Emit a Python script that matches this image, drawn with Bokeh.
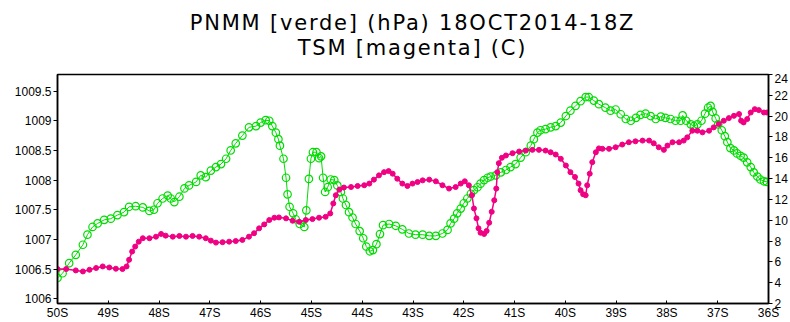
from bokeh.plotting import figure
from bokeh.models import Range1d, LinearAxis, FixedTicker, ColumnDataSource, Div
from bokeh.layouts import column
from bokeh.embed import file_html
from bokeh.resources import INLINE

# ---- data (latitude in degrees South) ----
lat_p = [50.00, 49.90, 49.77, 49.64, 49.50, 49.41, 49.31, 49.21, 49.08, 48.95,
         48.82, 48.69, 48.59, 48.46, 48.32, 48.19, 48.10, 48.03, 47.93, 47.83,
         47.77, 47.70, 47.60, 47.50, 47.41, 47.27, 47.18, 47.08, 46.98, 46.88,
         46.78, 46.68, 46.59, 46.49, 46.36, 46.23, 46.09, 46.00, 45.90, 45.83,
         45.77, 45.70, 45.65, 45.62, 45.55, 45.50, 45.47, 45.43, 45.36, 45.31,
         45.23, 45.14, 45.10, 45.05, 45.01, 44.97, 44.90, 44.85, 44.81, 44.77,
         44.73, 44.68, 44.62, 44.55, 44.49, 44.42, 44.38, 44.32, 44.26, 44.19,
         44.13, 44.05, 43.98, 43.92, 43.85, 43.79, 43.72, 43.65, 43.59, 43.47,
         43.34, 43.21, 43.08, 42.95, 42.81, 42.68, 42.55, 42.42, 42.32, 42.26,
         42.19, 42.13, 42.06, 42.00, 41.93, 41.86, 41.80, 41.73, 41.67, 41.60,
         41.53, 41.47, 41.37, 41.27, 41.17, 41.08, 40.98, 40.88, 40.78, 40.68,
         40.62, 40.55, 40.49, 40.39, 40.29, 40.19, 40.09, 39.99, 39.90, 39.80,
         39.70, 39.60, 39.54, 39.44, 39.34, 39.21, 39.11, 39.01, 38.91, 38.81,
         38.71, 38.61, 38.52, 38.42, 38.32, 38.22, 38.12, 38.03, 37.93, 37.83,
         37.73, 37.69, 37.62, 37.53, 37.47, 37.40, 37.32, 37.25, 37.19, 37.14,
         37.10, 37.04, 36.99, 36.92, 36.86, 36.81, 36.75, 36.68, 36.62, 36.55,
         36.49, 36.42, 36.35, 36.29, 36.22, 36.16, 36.09, 36.03]
pnmm = [1006.35, 1006.43, 1006.60, 1006.74, 1006.91, 1007.08, 1007.21, 1007.27, 1007.33, 1007.35,
        1007.41, 1007.46, 1007.55, 1007.56, 1007.54, 1007.48, 1007.50, 1007.61, 1007.69, 1007.74,
        1007.69, 1007.63, 1007.72, 1007.86, 1007.91, 1007.97, 1008.08, 1008.05, 1008.16, 1008.22,
        1008.27, 1008.36, 1008.50, 1008.62, 1008.75, 1008.89, 1008.91, 1008.97, 1009.01, 1009.00,
        1008.91, 1008.80, 1008.69, 1008.58, 1008.36, 1008.04, 1007.76, 1007.55, 1007.44, 1007.34,
        1007.26, 1007.21, 1007.49, 1008.02, 1008.36, 1008.47, 1008.47, 1008.37, 1008.40, 1008.04,
        1007.80, 1007.88, 1008.01, 1008.00, 1007.91, 1007.80, 1007.69, 1007.58, 1007.46, 1007.37,
        1007.26, 1007.14, 1007.02, 1006.88, 1006.80, 1006.82, 1006.92, 1007.09, 1007.24, 1007.26,
        1007.23, 1007.17, 1007.10, 1007.08, 1007.08, 1007.06, 1007.06, 1007.10, 1007.16, 1007.27,
        1007.35, 1007.44, 1007.52, 1007.61, 1007.69, 1007.77, 1007.83, 1007.88, 1007.94, 1008.00,
        1008.04, 1008.06, 1008.08, 1008.13, 1008.17, 1008.22, 1008.27, 1008.38, 1008.47, 1008.58,
        1008.69, 1008.80, 1008.84, 1008.86, 1008.89, 1008.91, 1008.97, 1009.08, 1009.17, 1009.25,
        1009.33, 1009.40, 1009.40, 1009.34, 1009.28, 1009.22, 1009.17, 1009.19, 1009.11, 1009.03,
        1009.00, 1009.05, 1009.10, 1009.12, 1009.08, 1009.03, 1009.07, 1009.05, 1009.03, 1009.00,
        1009.00, 1009.09, 1009.00, 1008.94, 1008.91, 1008.94, 1009.00, 1009.12, 1009.22, 1009.25,
        1009.15, 1009.04, 1008.94, 1008.84, 1008.74, 1008.64, 1008.54, 1008.50, 1008.45, 1008.41,
        1008.38, 1008.30, 1008.22, 1008.13, 1008.06, 1008.01, 1007.98, 1007.97]

lat_t = [50.00, 49.83, 49.64, 49.50, 49.37, 49.24, 49.11, 48.98, 48.85, 48.72,
         48.64, 48.59, 48.53, 48.47, 48.40, 48.32, 48.19, 48.06, 47.96, 47.87,
         47.73, 47.60, 47.47, 47.34, 47.21, 47.08, 46.98, 46.88, 46.75, 46.62,
         46.49, 46.36, 46.23, 46.13, 46.03, 45.93, 45.83, 45.73, 45.64, 45.50,
         45.37, 45.24, 45.11, 44.98, 44.85, 44.72, 44.63, 44.57, 44.52, 44.45,
         44.36, 44.22, 44.09, 43.96, 43.86, 43.77, 43.67, 43.57, 43.48, 43.40,
         43.31, 43.21, 43.11, 43.01, 42.91, 42.81, 42.68, 42.55, 42.42, 42.29,
         42.16, 42.06, 41.98, 41.90, 41.84, 41.80, 41.75, 41.71, 41.67, 41.60,
         41.55, 41.50, 41.45, 41.40, 41.36, 41.34, 41.31, 41.25, 41.17, 41.04,
         40.91, 40.78, 40.65, 40.52, 40.39, 40.29, 40.19, 40.09, 39.99, 39.90,
         39.81, 39.74, 39.70, 39.65, 39.60, 39.57, 39.52, 39.47, 39.40, 39.34,
         39.27, 39.14, 39.01, 38.88, 38.75, 38.62, 38.48, 38.35, 38.26, 38.16,
         38.06, 37.99, 37.89, 37.76, 37.67, 37.60, 37.50, 37.40, 37.30, 37.17,
         37.08, 36.98, 36.88, 36.78, 36.68, 36.58, 36.54, 36.49, 36.42, 36.35,
         36.27, 36.19, 36.09, 36.03]
tsm = [5.31, 5.31, 5.18, 5.08, 5.24, 5.41, 5.56, 5.46, 5.34, 5.31,
       5.56, 6.20, 6.99, 7.47, 7.94, 8.27, 8.27, 8.42, 8.68, 8.52,
       8.42, 8.49, 8.42, 8.49, 8.42, 8.27, 8.04, 7.85, 7.89, 7.94,
       8.00, 8.11, 8.42, 8.75, 9.22, 9.60, 10.02, 10.24, 10.27, 10.18,
       9.95, 9.85, 10.02, 10.11, 10.24, 10.33, 10.65, 11.61, 12.40, 12.94,
       13.14, 13.19, 13.29, 13.36, 13.52, 13.90, 14.31, 14.62, 14.72, 14.47,
       13.99, 13.52, 13.29, 13.52, 13.67, 13.83, 13.90, 13.74, 13.36, 13.04,
       13.19, 13.52, 13.74, 13.36, 12.40, 11.13, 10.18, 9.22, 8.80, 8.68,
       8.97, 9.76, 10.81, 11.92, 13.04, 14.62, 15.48, 16.00, 16.22, 16.44,
       16.60, 16.69, 16.76, 16.76, 16.69, 16.53, 16.31, 15.90, 15.26, 14.62,
       14.15, 13.52, 12.88, 12.50, 12.40, 13.36, 14.47, 15.58, 16.53, 16.90,
       16.86, 16.86, 17.01, 17.27, 17.49, 17.58, 17.65, 17.65, 17.39, 17.01,
       16.76, 17.17, 17.49, 17.49, 17.65, 17.96, 18.60, 18.60, 18.44, 18.60,
       18.92, 19.24, 19.56, 19.81, 20.03, 20.20, 19.56, 19.40, 19.72, 20.35,
       20.67, 20.58, 20.35, 20.35]

x_ticks = [50, 49, 48, 47, 46, 45, 44, 43, 42, 41, 40, 39, 38, 37, 36]
x_labels = ["50S", "49S", "48S", "47S", "46S", "45S", "44S", "43S", "42S", "41S",
            "40S", "39S", "38S", "37S", "36S"]
p_ticks = [1006, 1006.5, 1007, 1007.5, 1008, 1008.5, 1009, 1009.5]
p_labels = ["1006", "1006.5", "1007", "1007.5", "1008", "1008.5", "1009", "1009.5"]
t_ticks = [2, 4, 6, 8, 10, 12, 14, 16, 18, 20, 22, 24]

title1 = "PNMM [verde] (hPa) 18OCT2014-18Z"
title2 = "TSM [magenta] (C)"

GREEN = "#00dc00"
MAGENTA = "#f00082"

W = 790
TITLE_H = 73
BL, BR, BT, BB = 57, 22, 1, 18

# ---- title block (two centred lines above the frame) ----
frame_w = W - BL - BR
head = Div(
    text=(f'<div style="width:{frame_w}px;margin-left:{BL}px;text-align:center;'
          f'font-family:\'DejaVu Sans\';font-size:21px;letter-spacing:1.8px;'
          f'line-height:24.5px;color:#000;padding-top:11px;white-space:nowrap">'
          f'{title1}<br>{title2}</div>'),
    width=W, height=TITLE_H, margin=0)

# ---- figure ----
p = figure(width=W, height=322 - TITLE_H, output_backend="svg", toolbar_location=None,
           title=None, x_range=Range1d(50, 36), y_range=Range1d(1005.92, 1009.78),
           min_border_left=BL, min_border_right=BR, min_border_top=BT, min_border_bottom=BB,
           margin=0)
p.extra_y_ranges = {"t": Range1d(2, 24)}

p.xgrid.visible = False
p.ygrid.visible = False
p.outline_line_color = "black"
p.outline_line_width = 1.5
p.background_fill_color = "white"
p.border_fill_color = "white"

src_p = ColumnDataSource(dict(lat=lat_p, val=pnmm))
src_t = ColumnDataSource(dict(lat=lat_t, val=tsm))

p.line("lat", "val", source=src_p, line_color=GREEN, line_width=1)
p.scatter("lat", "val", source=src_p, marker="circle", size=7.5, fill_color=None,
          line_color=GREEN, line_width=1.2)

p.line("lat", "val", source=src_t, y_range_name="t", line_color=MAGENTA, line_width=1.5)
p.scatter("lat", "val", source=src_t, y_range_name="t", marker="circle", size=5,
          fill_color=MAGENTA, line_color=MAGENTA)

right = LinearAxis(y_range_name="t", ticker=FixedTicker(ticks=t_ticks))
p.add_layout(right, "right")

p.xaxis.ticker = FixedTicker(ticks=x_ticks)
p.xaxis.major_label_overrides = {t: s for t, s in zip(x_ticks, x_labels)}
p.yaxis[0].ticker = FixedTicker(ticks=p_ticks)
p.yaxis[0].major_label_overrides = {(int(t) if float(t).is_integer() else t): s
                                    for t, s in zip(p_ticks, p_labels)}

for ax in [p.xaxis[0], p.yaxis[0], right]:
    ax.axis_line_color = "black"
    ax.axis_line_width = 1.5
    ax.major_tick_line_color = "black"
    ax.major_tick_line_width = 1
    ax.major_tick_out = 4
    ax.major_tick_in = 0
    ax.minor_tick_line_color = None
    ax.major_label_text_font = "Liberation Sans"
    ax.major_label_text_font_size = "12px"
    ax.major_label_text_color = "black"
    ax.major_label_standoff = 2
p.xaxis[0].major_tick_out = 0
p.xaxis[0].major_tick_in = 3
p.xaxis[0].major_label_standoff = 2

layout = column(head, p, spacing=0, margin=0)

open("out.html", "w").write(file_html(layout, INLINE))
